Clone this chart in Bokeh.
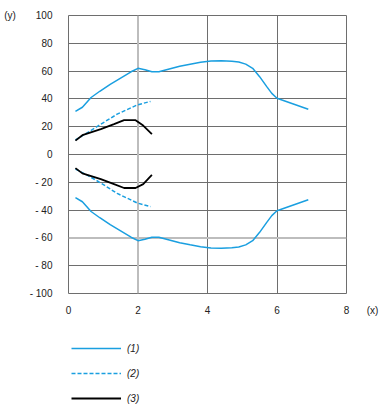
from bokeh.plotting import figure
from bokeh.layouts import column
from bokeh.models import Range1d, FixedTicker, Span, Label, Legend, LegendItem
from bokeh.embed import file_html
from bokeh.resources import INLINE

# ---- data ----
x1 = [0.2, 0.4, 0.65, 0.9, 1.2, 1.5, 1.8, 2.0, 2.2, 2.4, 2.6, 2.9, 3.2, 3.5, 3.8,
      4.1, 4.4, 4.7, 4.9, 5.1, 5.3, 5.5, 5.7, 5.85, 6.0, 6.45, 6.9]
y1_upper = [31, 34, 41, 45.5, 50.5, 55, 59.5, 62, 61, 59.5, 59.5, 61.5, 63.5, 65, 66.3,
            67.2, 67.4, 67, 66.5, 65, 62, 56, 49, 44, 40.5, 36.5, 32.5]
y1_lower = [-31, -34, -41, -45.5, -50.5, -55, -59.5, -62, -61, -59.5, -59.5, -61.5, -63.5, -65, -66.3,
            -67.2, -67.4, -67, -66.5, -65, -62, -56, -49, -44, -40.5, -36.5, -32.5]

x2 = [0.2, 0.55, 0.93, 1.4, 1.98, 2.36]
y2_upper = [10.5, 15.8, 21.8, 29, 35.7, 38.2]
y2_lower = [-10.5, -15, -20.5, -28, -34.9, -37.5]

x3 = [0.2, 0.4, 0.93, 1.31, 1.6, 1.93, 2.15, 2.4]
y3_upper = [10, 13.9, 18.2, 21.8, 24.7, 24.7, 20.8, 14.6]
y3_lower = [-9.8, -13.6, -17.7, -21.3, -24.1, -24.1, -21.3, -14.6]

x_ticks = [0, 2, 4, 6, 8]
y_ticks = [-100, -80, -60, -40, -20, 0, 20, 40, 60, 80, 100]
y_tick_labels = {str(t): (f"- {abs(t)}" if t < 0 else str(t)) for t in y_ticks}
series_names = ["(1)", "(2)", "(3)"]

BLUE = "#1a9fe0"
GRID = "#6e6e6e"
LIGHT = "#bdbdbd"
FONT = "Liberation Sans"

p = figure(width=381, height=320, output_backend="svg", toolbar_location=None,
           x_range=Range1d(0, 8), y_range=Range1d(-100, 100),
           min_border_left=68, min_border_right=35, min_border_top=15, min_border_bottom=27)

p.outline_line_color = GRID
p.outline_line_width = 1
p.background_fill_color = "white"

for ax in (p.xaxis[0], p.yaxis[0]):
    ax.axis_line_color = None
    ax.major_tick_line_color = None
    ax.minor_tick_line_color = None
    ax.major_tick_out = 0
    ax.major_tick_in = 0
    ax.major_label_text_font = FONT
    ax.major_label_text_font_size = "10px"
    ax.major_label_text_color = "#222222"

p.xaxis.ticker = FixedTicker(ticks=x_ticks)
p.yaxis.ticker = FixedTicker(ticks=y_ticks)
p.yaxis.major_label_overrides = {t: y_tick_labels[str(t)] for t in y_ticks}
p.xaxis.major_label_standoff = 12
p.yaxis.major_label_standoff = 16

p.xgrid.ticker = FixedTicker(ticks=x_ticks)
p.ygrid.ticker = FixedTicker(ticks=y_ticks)
p.grid.grid_line_color = GRID
p.grid.grid_line_width = 1

p.add_layout(Span(location=2, dimension="height", line_color=LIGHT, line_width=2, level="underlay"))
p.add_layout(Span(location=-60, dimension="width", line_color=LIGHT, line_width=2, level="underlay"))

p.line(x1, y1_upper, line_color=BLUE, line_width=1.5)
p.line(x1, y1_lower, line_color=BLUE, line_width=1.5)
p.line(x2, y2_upper, line_color=BLUE, line_width=1.5, line_dash="4 2")
p.line(x2, y2_lower, line_color=BLUE, line_width=1.5, line_dash="4 2")
p.line(x3, y3_upper, line_color="black", line_width=1.8)
p.line(x3, y3_lower, line_color="black", line_width=1.8)

# axis names placed in side panels so they are not clipped to the frame
p.add_layout(Label(x=8.75, y=-112, text="(x)", text_font=FONT, text_font_size="10px",
                   text_align="center", text_baseline="middle", text_color="#222222"), "right")
p.add_layout(Label(x=-1.68, y=100, text="(y)", text_font=FONT, text_font_size="10px",
                   text_align="center", text_baseline="middle", text_color="#222222"), "left")

# ---- legend panel ----
lg = figure(width=381, height=92, output_backend="svg", toolbar_location=None,
            x_range=Range1d(0, 1), y_range=Range1d(0, 1),
            x_axis_location=None, y_axis_location=None,
            min_border_left=68, min_border_right=0, min_border_top=0, min_border_bottom=0)
lg.grid.visible = False
lg.outline_line_color = None
off = [5, 6]  # keys drawn outside the visible range; only their legend glyphs show
k1 = lg.line(off, off, line_color=BLUE, line_width=1.6)
k2 = lg.line(off, off, line_color=BLUE, line_width=1.6, line_dash="4 2")
k3 = lg.line(off, off, line_color="black", line_width=1.9)

legend = Legend(items=[LegendItem(label=series_names[0], renderers=[k1]),
                       LegendItem(label=series_names[1], renderers=[k2]),
                       LegendItem(label=series_names[2], renderers=[k3])],
                location=(3, 8))
legend.glyph_width = 50
legend.glyph_height = 12
legend.label_height = 12
legend.spacing = 13
legend.padding = 0
legend.margin = 0
legend.label_standoff = 6
legend.label_text_font = FONT
legend.label_text_font_size = "10px"
legend.label_text_font_style = "italic"
legend.label_text_color = "#222222"
legend.border_line_color = None
legend.background_fill_alpha = 0
lg.add_layout(legend, "center")

layout = column(p, lg, spacing=0)
open("out.html", "w").write(file_html(layout, INLINE))
